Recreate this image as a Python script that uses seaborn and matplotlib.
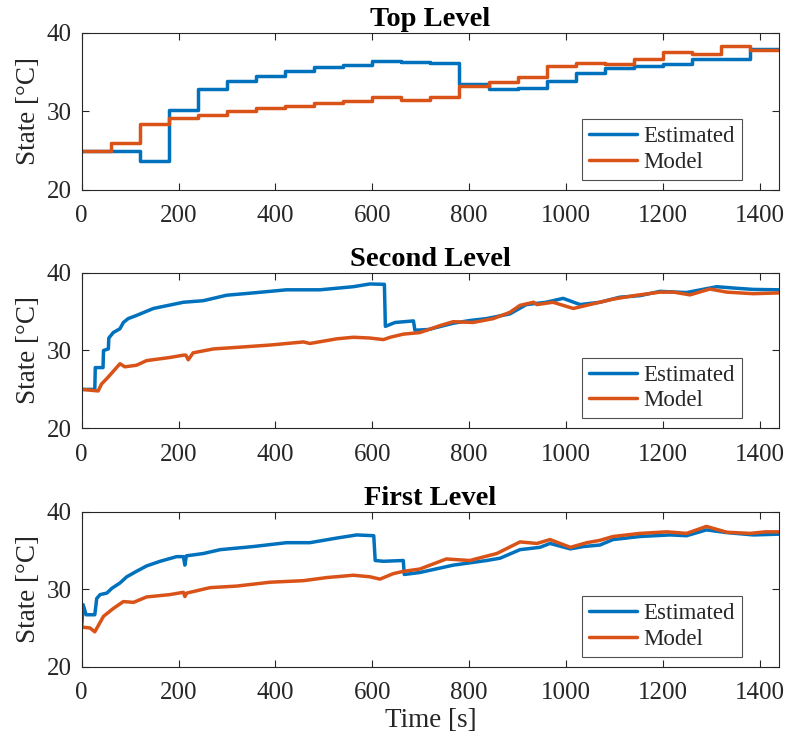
import matplotlib
matplotlib.use("Agg")
import matplotlib.pyplot as plt
import seaborn as sns
import pandas as pd

# ---- Top level: sampled (zero-order hold) states ----
top_t = [0, 60, 120, 180, 240, 300, 360, 420, 480, 540, 600, 660, 720, 780,
         840, 900, 960, 1020, 1080, 1140, 1200, 1260, 1320, 1380, 1440]
top_est = [25.0, 25.0, 23.7, 30.2, 32.85, 33.9, 34.55, 35.2, 35.65, 35.95, 36.4,
           36.35, 36.2, 33.5, 32.85, 33.05, 33.9, 34.95, 35.5, 35.8, 36.0, 36.7,
           36.7, 37.95, 37.95]
top_mod = [25.0, 26.0, 28.4, 29.2, 29.6, 30.0, 30.4, 30.7, 31.05, 31.3, 31.8,
           31.5, 31.8, 33.2, 33.7, 34.4, 35.8, 36.2, 36.0, 36.7, 37.6, 37.3,
           38.3, 37.8, 37.8]

# ---- Second level ----
sec_est_t = [0, 27, 28, 44, 45, 55, 56, 65, 79, 86, 96, 113, 148, 210, 251, 299,
             354, 423, 492, 561, 595, 625, 627, 647, 685, 688, 716, 767, 801, 836,
             884, 918, 959, 994, 1029, 1070, 1111, 1153, 1194, 1249, 1311, 1352,
             1387, 1440]
sec_est = [25.0, 25.0, 27.8, 27.8, 30.0, 30.2, 31.6, 32.3, 32.8, 33.6, 34.1, 34.5,
           35.4, 36.2, 36.4, 37.1, 37.4, 37.8, 37.8, 38.2, 38.55, 38.5, 33.1, 33.6,
           33.8, 32.6, 32.7, 33.5, 33.85, 34.1, 34.7, 35.9, 36.2, 36.7, 35.9, 36.2,
           36.85, 37.05, 37.6, 37.45, 38.2, 38.0, 37.85, 37.8]
sec_mod_t = [0, 34, 41, 52, 62, 79, 89, 113, 134, 182, 210, 215, 220, 230, 272,
             320, 389, 458, 471, 527, 561, 595, 623, 637, 664, 698, 717, 740, 767,
             808, 850, 884, 905, 933, 940, 973, 994, 1015, 1056, 1097, 1146, 1194,
             1222, 1256, 1297, 1332, 1387, 1440]
sec_mod = [25.0, 24.8, 25.7, 26.4, 27.1, 28.3, 27.9, 28.1, 28.7, 29.1, 29.4, 29.4,
           28.8, 29.7, 30.2, 30.4, 30.7, 31.1, 30.9, 31.5, 31.7, 31.6, 31.4, 31.7,
           32.1, 32.3, 32.7, 33.2, 33.7, 33.6, 34.1, 34.9, 35.8, 36.2, 35.9, 36.2,
           35.8, 35.4, 36.0, 36.6, 37.1, 37.5, 37.5, 37.15, 37.9, 37.5, 37.3, 37.4]

# ---- First level ----
fst_est_t = [0, 3, 9, 27, 31, 38, 52, 62, 79, 93, 113, 134, 162, 196, 210, 213,
             216, 251, 286, 354, 423, 471, 527, 568, 603, 606, 623, 664, 666, 698,
             767, 836, 864, 905, 946, 967, 1009, 1036, 1070, 1097, 1153, 1215,
             1249, 1290, 1332, 1387, 1440]
fst_est = [25.2, 28.0, 26.7, 26.7, 28.8, 29.3, 29.5, 30.1, 30.8, 31.6, 32.3, 33.0,
           33.6, 34.2, 34.2, 33.1, 34.3, 34.6, 35.1, 35.5, 36.0, 36.0, 36.6, 37.0,
           36.9, 33.7, 33.6, 33.7, 31.9, 32.15, 33.1, 33.7, 34.0, 35.1, 35.4, 35.9,
           35.2, 35.5, 35.7, 36.4, 36.8, 37.0, 36.9, 37.65, 37.3, 37.0, 37.1]
fst_mod_t = [0, 17, 27, 45, 65, 86, 107, 134, 182, 210, 213, 217, 265, 320, 389,
             458, 506, 561, 595, 616, 643, 664, 698, 753, 801, 857, 905, 940, 967,
             1009, 1043, 1070, 1097, 1153, 1208, 1249, 1290, 1332, 1380, 1412, 1440]
fst_mod = [25.1, 25.0, 24.5, 26.5, 27.5, 28.4, 28.3, 29.0, 29.3, 29.6, 29.05, 29.5,
           30.2, 30.4, 30.9, 31.1, 31.5, 31.8, 31.6, 31.3, 32.0, 32.3, 32.6, 33.9,
           33.7, 34.6, 36.1, 35.9, 36.4, 35.4, 36.0, 36.3, 36.8, 37.2, 37.4, 37.2,
           38.1, 37.35, 37.2, 37.4, 37.4]

titles = ["Top Level", "Second Level", "First Level"]
series_labels = ["Estimated", "Model"]
x_ticks = [0, 200, 400, 600, 800, 1000, 1200, 1400]
y_ticks = [20, 30, 40]

BLUE = "#0072BD"
ORANGE = "#D95319"
AX_COLOR = "#262626"

sns.set_style("ticks")
plt.rcParams["font.family"] = ["Liberation Serif", "DejaVu Serif"]

fig = plt.figure(figsize=(7.88, 7.42), dpi=100)
positions = [
    [0.1037, 0.744, 0.885, 0.2116],
    [0.1037, 0.4228, 0.885, 0.2097],
    [0.1037, 0.1015, 0.885, 0.2089],
]

panels = [
    (top_t, top_est, top_t, top_mod, "steps-post"),
    (sec_est_t, sec_est, sec_mod_t, sec_mod, "default"),
    (fst_est_t, fst_est, fst_mod_t, fst_mod, "default"),
]

for i, (pos, (te, ye, tm, ym, ds), title) in enumerate(zip(positions, panels, titles)):
    ax = fig.add_axes(pos)
    df_e = pd.DataFrame({"t": te, "v": ye})
    df_m = pd.DataFrame({"t": tm, "v": ym})
    sns.lineplot(data=df_e, x="t", y="v", ax=ax, color=BLUE, lw=2.5,
                 label=series_labels[0], estimator=None, sort=False, drawstyle=ds)
    sns.lineplot(data=df_m, x="t", y="v", ax=ax, color=ORANGE, lw=2.5,
                 label=series_labels[1], estimator=None, sort=False, drawstyle=ds)

    ax.set_xlim(0, 1440)
    ax.set_ylim(20, 40)
    ax.set_xticks(x_ticks)
    ax.set_yticks(y_ticks)
    ax.tick_params(direction="in", length=5, width=0.8, colors=AX_COLOR,
                   labelsize=18, top=True, right=True)
    ax.tick_params(axis="x", pad=11)
    ax.tick_params(axis="y", pad=7)
    for s in ax.spines.values():
        s.set_visible(True)
        s.set_color(AX_COLOR)
        s.set_linewidth(0.8)
    ax.set_title(title, fontsize=20.5, fontweight="bold", pad=5, color="black")
    ax.set_ylabel("State [°C]", fontsize=19.5, color=AX_COLOR, labelpad=4)
    if i == 2:
        ax.set_xlabel("Time [s]", fontsize=19.5, color=AX_COLOR, labelpad=3)
    else:
        ax.set_xlabel("")

    leg = ax.legend(loc="lower right", bbox_to_anchor=(0.947, 0.064),
                    borderaxespad=0, fontsize=16.5, frameon=True, fancybox=False,
                    handlelength=2.1, handletextpad=0.3, borderpad=0.3,
                    labelspacing=0.2)
    leg.get_frame().set_edgecolor(AX_COLOR)
    leg.get_frame().set_linewidth(0.8)
    for txt in leg.get_texts():
        txt.set_color(AX_COLOR)

fig.savefig("out.png", dpi=100)
